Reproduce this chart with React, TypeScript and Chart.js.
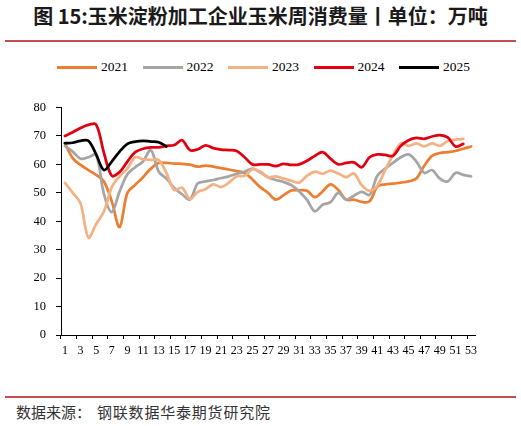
import React, { useEffect, useRef } from 'react';
import { Chart, registerables } from 'chart.js';

Chart.register(...registerables);

const weeks = ['1', '2', '3', '4', '5', '6', '7', '8', '9', '10', '11', '12', '13', '14', '15', '16', '17', '18', '19', '20', '21', '22', '23', '24', '25', '26', '27', '28', '29', '30', '31', '32', '33', '34', '35', '36', '37', '38', '39', '40', '41', '42', '43', '44', '45', '46', '47', '48', '49', '50', '51', '52', '53'];

const s2021 = [67.4, 62.2, 59.8, 58, 56.3, 54, 47, 38, 50, 52.8, 55.5, 58.5, 60.5, 60.5, 60.3, 60.2, 59.9, 59.2, 59.6, 59.2, 58.7, 58.2, 57.6, 57, 54.7, 52, 50, 47.6, 49.2, 50.8, 50.9, 50.7, 48.5, 50.5, 53, 51, 47.6, 47.6, 46.8, 47, 52.2, 53, 53.2, 53.6, 54, 55, 59.5, 63, 64, 64.3, 64.7, 65.5, 66.3];

const s2022 = [66.5, 64.5, 62, 62.5, 63.3, 49.5, 43.2, 50.5, 56.5, 59, 61, 65, 57.5, 55, 51.7, 49.5, 47.6, 53.3, 54, 54.5, 55.2, 55.8, 56.7, 57.4, 58.5, 57.2, 55.5, 54.5, 53.8, 52.7, 50.5, 47.5, 43.5, 45.8, 46.7, 50, 47.6, 49, 50.3, 49.3, 56, 58.5, 60.5, 62.5, 63.5, 61, 57, 58, 55, 54, 57, 56.3, 55.8];

const s2023 = [53.5, 50, 46.3, 34.3, 39, 43.5, 52, 55.8, 58.5, 62.5, 61.8, 61.6, 61.5, 57, 51, 51.8, 47.8, 50.3, 51.3, 53, 52, 53.6, 55.8, 56, 58.3, 57.5, 55.5, 55.8, 55, 54.2, 53.6, 56, 57.4, 56.7, 57.8, 56.8, 55.5, 56.8, 52.7, 50.7, 52.5, 58, 63.2, 67.4, 66.5, 67.4, 66.3, 67.4, 66.5, 68.2, 68.7, 69, null];

const s2024 = [70, 71.3, 72.8, 73.9, 74, 64, 56, 57.3, 61, 64.3, 65.5, 66, 66, 66.5, 66.8, 68.5, 65, 65.3, 66.7, 65.7, 65.2, 65, 64.7, 62.5, 60, 60, 60, 59.4, 60.2, 59.8, 60, 61.3, 63, 64.3, 62, 60, 60.5, 60.7, 59, 62.5, 63.5, 63.3, 63, 66.5, 68.5, 69.3, 69, 69.8, 70.3, 69.5, 66.3, 67.2, null];

const s2025 = [67.5, 67.6, 68.3, 68.3, 63.5, 58, 61, 64.5, 67.2, 68, 68.3, 68, 67.8, 66.3, null, null, null, null, null, null, null, null, null, null, null, null, null, null, null, null, null, null, null, null, null, null, null, null, null, null, null, null, null, null, null, null, null, null, null, null, null, null, null];

const seriesNames = ['2021', '2022', '2023', '2024', '2025'];
const seriesData = [s2021, s2022, s2023, s2024, s2025];
const seriesColors = ['#ED7D31', '#A5A5A5', '#F4B183', '#E00010', '#000000'];

const yMin = 0;
const yMax = 80;
const yStep = 10;

const serif = "'Times New Roman', 'Liberation Serif', serif";
const cjk = "'Noto Sans CJK SC', 'Noto Sans', sans-serif";

export default function App() {
  const ref = useRef<HTMLCanvasElement>(null);

  useEffect(() => {
    document.body.style.margin = '0';
    const chart = new Chart(ref.current as HTMLCanvasElement, {
      type: 'line',
      data: {
        labels: weeks,
        datasets: seriesNames.map((name, i) => ({
          label: name,
          data: seriesData[i],
          borderColor: seriesColors[i],
          backgroundColor: seriesColors[i],
          borderWidth: 2.75,
          pointRadius: 0,
          tension: 0.35,
          spanGaps: false,
          order: seriesNames.length - i,
          borderCapStyle: 'round',
          borderJoinStyle: 'round',
        })),
      },
      options: {
        animation: false,
        responsive: false,
        layout: { padding: { left: 0, right: 46, top: 13, bottom: 0 } },
        plugins: {
          legend: { display: false },
          tooltip: { enabled: false },
        },
        scales: {
          x: {
            offset: true,
            grid: {
              display: true,
              drawOnChartArea: false,
              drawTicks: true,
              tickLength: 4,
              offset: true,
              color: (c: any) => (c.index % 2 === 0 ? '#000' : 'rgba(0,0,0,0)'),
              lineWidth: 1,
            },
            border: { display: true, color: '#000', width: 1 },
            ticks: {
              autoSkip: false,
              maxRotation: 0,
              minRotation: 0,
              padding: 5,
              color: '#000',
              font: { family: serif, size: 12 },
              callback: (_v: any, i: number) => (i % 2 === 0 ? weeks[i] : ''),
            },
            afterFit: (s: any) => {
              s.height = 30;
            },
          },
          y: {
            min: yMin,
            max: yMax,
            ticks: {
              stepSize: yStep,
              padding: 10,
              color: '#000',
              font: { family: serif, size: 12.5 },
            },
            grid: { drawOnChartArea: false, tickLength: 5, color: '#000' },
            border: { display: true, color: '#000', width: 1 },
            afterFit: (s: any) => {
              s.width = 61;
            },
          },
        },
      },
    } as any);
    return () => chart.destroy();
  }, []);

  return (
    <div style={{ position: 'relative', width: 521, height: 426, background: '#fff', overflow: 'hidden' }}>
      <div
        style={{
          position: 'absolute',
          top: 0,
          left: 0,
          width: 521,
          height: 32,
          lineHeight: '32px',
          textAlign: 'center',
          fontFamily: cjk,
          fontWeight: 700,
          fontSize: 20,
          color: '#1a1a1a',
          whiteSpace: 'nowrap',
        }}
      >
        图 15:玉米淀粉加工企业玉米周消费量丨单位：万吨
      </div>
      <div style={{ position: 'absolute', top: 40, left: 5, width: 511, height: 2, background: '#C0504D' }} />
      <div
        style={{
          position: 'absolute',
          top: 57,
          left: 57,
          height: 20,
          display: 'flex',
          alignItems: 'center',
          gap: 14.5,
          fontFamily: serif,
          fontSize: 13.5,
          color: '#000',
        }}
      >
        {seriesNames.map((name, i) => (
          <div key={name} style={{ display: 'flex', alignItems: 'center' }}>
            <span style={{ display: 'inline-block', width: 40, height: 3, background: seriesColors[i], marginRight: 4 }} />
            <span style={{ lineHeight: '20px' }}>{name}</span>
          </div>
        ))}
      </div>
      <canvas
        ref={ref}
        width={521}
        height={275}
        style={{ position: 'absolute', top: 90, left: 0, width: 521, height: 275, display: 'block' }}
      />
      <div style={{ position: 'absolute', top: 396, left: 5, width: 511, height: 2, background: '#C0504D' }} />
      <div
        style={{
          position: 'absolute',
          top: 402,
          left: 16,
          height: 20,
          lineHeight: '20px',
          fontFamily: cjk,
          fontSize: 15,
          color: '#333',
          whiteSpace: 'nowrap',
        }}
      >
        数据来源：<span style={{ marginLeft: 6, letterSpacing: 0.8 }}>钢联数据华泰期货研究院</span>
      </div>
    </div>
  );
}
